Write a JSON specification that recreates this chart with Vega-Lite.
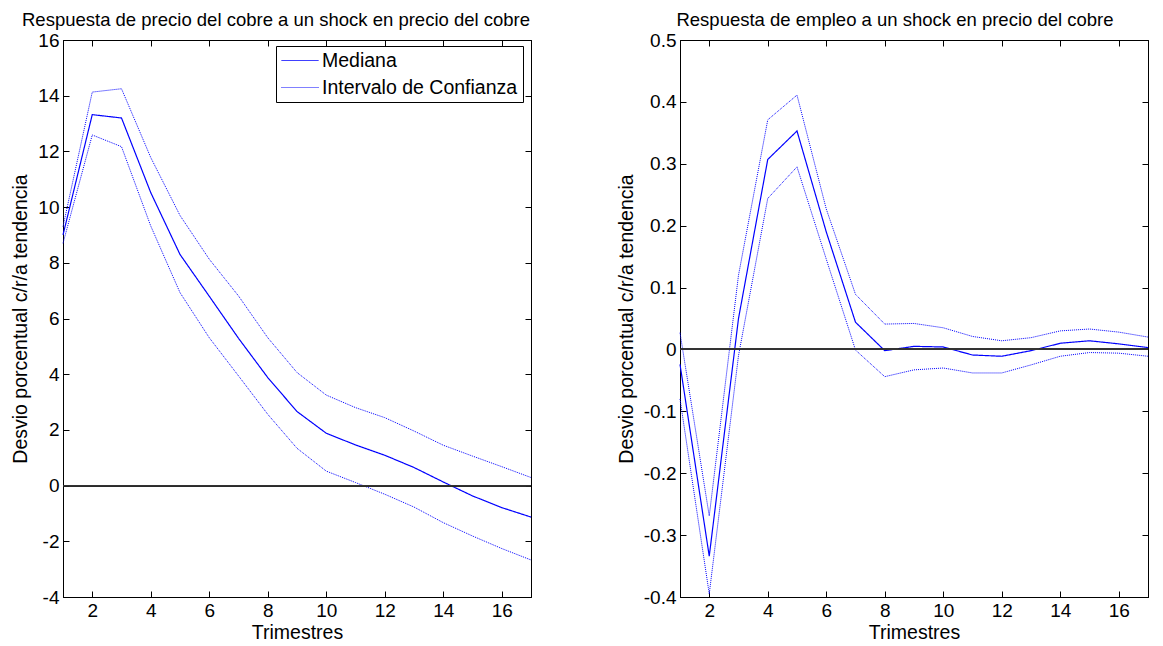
{
  "$schema": "https://vega.github.io/schema/vega-lite/v6.json",
  "padding": {"left": 10, "top": 10, "right": 5, "bottom": 4},
  "spacing": 81,
  "config": {
    "font": "Liberation Sans",
    "locale": {"number": {"decimal": ".", "thousands": ",", "grouping": [3], "currency": ["$", ""], "minus": "-"}},
    "view": {"stroke": "black", "strokeWidth": 1},
    "title": {"fontSize": 18.5, "fontWeight": "normal", "color": "black", "font": "Liberation Sans", "offset": 2},
    "axis": {
      "domainColor": "black", "tickColor": "black", "labelColor": "black", "titleColor": "black",
      "labelFontSize": 19, "titleFontSize": 19.5, "titleFontWeight": "normal", "grid": false,
      "tickSize": -6, "labelPadding": 10, "labelFont": "Liberation Sans", "titleFont": "Liberation Sans"
    },
    "legend": {
      "strokeColor": "black", "fillColor": "white", "padding": 5, "labelFontSize": 19.5, "labelLimit": 0,
      "labelFont": "Liberation Sans", "labelColor": "black", "symbolType": "stroke", "symbolSize": 1369,
      "symbolStrokeWidth": 1, "symbolStrokeColor": "#0000ff", "rowPadding": 7, "labelOffset": 3, "clipHeight": 19
    }
  },
  "datasets": {
    "irf": [
      {"panel": "cobre", "t": 1, "tipo": "Mediana", "banda": "med", "valor": 9.0},
      {"panel": "cobre", "t": 2, "tipo": "Mediana", "banda": "med", "valor": 13.32},
      {"panel": "cobre", "t": 3, "tipo": "Mediana", "banda": "med", "valor": 13.2},
      {"panel": "cobre", "t": 4, "tipo": "Mediana", "banda": "med", "valor": 10.52},
      {"panel": "cobre", "t": 5, "tipo": "Mediana", "banda": "med", "valor": 8.3},
      {"panel": "cobre", "t": 6, "tipo": "Mediana", "banda": "med", "valor": 6.8},
      {"panel": "cobre", "t": 7, "tipo": "Mediana", "banda": "med", "valor": 5.29},
      {"panel": "cobre", "t": 8, "tipo": "Mediana", "banda": "med", "valor": 3.88},
      {"panel": "cobre", "t": 9, "tipo": "Mediana", "banda": "med", "valor": 2.66},
      {"panel": "cobre", "t": 10, "tipo": "Mediana", "banda": "med", "valor": 1.88},
      {"panel": "cobre", "t": 11, "tipo": "Mediana", "banda": "med", "valor": 1.46},
      {"panel": "cobre", "t": 12, "tipo": "Mediana", "banda": "med", "valor": 1.09},
      {"panel": "cobre", "t": 13, "tipo": "Mediana", "banda": "med", "valor": 0.65},
      {"panel": "cobre", "t": 14, "tipo": "Mediana", "banda": "med", "valor": 0.13},
      {"panel": "cobre", "t": 15, "tipo": "Mediana", "banda": "med", "valor": -0.37},
      {"panel": "cobre", "t": 16, "tipo": "Mediana", "banda": "med", "valor": -0.79},
      {"panel": "cobre", "t": 17, "tipo": "Mediana", "banda": "med", "valor": -1.13},
      {"panel": "cobre", "t": 1, "tipo": "Intervalo de Confianza", "banda": "sup", "valor": 9.3},
      {"panel": "cobre", "t": 2, "tipo": "Intervalo de Confianza", "banda": "sup", "valor": 14.13},
      {"panel": "cobre", "t": 3, "tipo": "Intervalo de Confianza", "banda": "sup", "valor": 14.25},
      {"panel": "cobre", "t": 4, "tipo": "Intervalo de Confianza", "banda": "sup", "valor": 11.78},
      {"panel": "cobre", "t": 5, "tipo": "Intervalo de Confianza", "banda": "sup", "valor": 9.7},
      {"panel": "cobre", "t": 6, "tipo": "Intervalo de Confianza", "banda": "sup", "valor": 8.13},
      {"panel": "cobre", "t": 7, "tipo": "Intervalo de Confianza", "banda": "sup", "valor": 6.81},
      {"panel": "cobre", "t": 8, "tipo": "Intervalo de Confianza", "banda": "sup", "valor": 5.31},
      {"panel": "cobre", "t": 9, "tipo": "Intervalo de Confianza", "banda": "sup", "valor": 4.06},
      {"panel": "cobre", "t": 10, "tipo": "Intervalo de Confianza", "banda": "sup", "valor": 3.25},
      {"panel": "cobre", "t": 11, "tipo": "Intervalo de Confianza", "banda": "sup", "valor": 2.8},
      {"panel": "cobre", "t": 12, "tipo": "Intervalo de Confianza", "banda": "sup", "valor": 2.44},
      {"panel": "cobre", "t": 13, "tipo": "Intervalo de Confianza", "banda": "sup", "valor": 1.96},
      {"panel": "cobre", "t": 14, "tipo": "Intervalo de Confianza", "banda": "sup", "valor": 1.45},
      {"panel": "cobre", "t": 15, "tipo": "Intervalo de Confianza", "banda": "sup", "valor": 1.06},
      {"panel": "cobre", "t": 16, "tipo": "Intervalo de Confianza", "banda": "sup", "valor": 0.68},
      {"panel": "cobre", "t": 17, "tipo": "Intervalo de Confianza", "banda": "sup", "valor": 0.29},
      {"panel": "cobre", "t": 1, "tipo": "Intervalo de Confianza", "banda": "inf", "valor": 8.7},
      {"panel": "cobre", "t": 2, "tipo": "Intervalo de Confianza", "banda": "inf", "valor": 12.59},
      {"panel": "cobre", "t": 3, "tipo": "Intervalo de Confianza", "banda": "inf", "valor": 12.17},
      {"panel": "cobre", "t": 4, "tipo": "Intervalo de Confianza", "banda": "inf", "valor": 9.32},
      {"panel": "cobre", "t": 5, "tipo": "Intervalo de Confianza", "banda": "inf", "valor": 6.93},
      {"panel": "cobre", "t": 6, "tipo": "Intervalo de Confianza", "banda": "inf", "valor": 5.31},
      {"panel": "cobre", "t": 7, "tipo": "Intervalo de Confianza", "banda": "inf", "valor": 3.94},
      {"panel": "cobre", "t": 8, "tipo": "Intervalo de Confianza", "banda": "inf", "valor": 2.56},
      {"panel": "cobre", "t": 9, "tipo": "Intervalo de Confianza", "banda": "inf", "valor": 1.34},
      {"panel": "cobre", "t": 10, "tipo": "Intervalo de Confianza", "banda": "inf", "valor": 0.52},
      {"panel": "cobre", "t": 11, "tipo": "Intervalo de Confianza", "banda": "inf", "valor": 0.11},
      {"panel": "cobre", "t": 12, "tipo": "Intervalo de Confianza", "banda": "inf", "valor": -0.31},
      {"panel": "cobre", "t": 13, "tipo": "Intervalo de Confianza", "banda": "inf", "valor": -0.77},
      {"panel": "cobre", "t": 14, "tipo": "Intervalo de Confianza", "banda": "inf", "valor": -1.33},
      {"panel": "cobre", "t": 15, "tipo": "Intervalo de Confianza", "banda": "inf", "valor": -1.81},
      {"panel": "cobre", "t": 16, "tipo": "Intervalo de Confianza", "banda": "inf", "valor": -2.26},
      {"panel": "cobre", "t": 17, "tipo": "Intervalo de Confianza", "banda": "inf", "valor": -2.67},
      {"panel": "empleo", "t": 1, "tipo": "Mediana", "banda": "med", "valor": -0.024},
      {"panel": "empleo", "t": 2, "tipo": "Mediana", "banda": "med", "valor": -0.334},
      {"panel": "empleo", "t": 3, "tipo": "Mediana", "banda": "med", "valor": 0.05},
      {"panel": "empleo", "t": 4, "tipo": "Mediana", "banda": "med", "valor": 0.307},
      {"panel": "empleo", "t": 5, "tipo": "Mediana", "banda": "med", "valor": 0.353},
      {"panel": "empleo", "t": 6, "tipo": "Mediana", "banda": "med", "valor": 0.19},
      {"panel": "empleo", "t": 7, "tipo": "Mediana", "banda": "med", "valor": 0.044},
      {"panel": "empleo", "t": 8, "tipo": "Mediana", "banda": "med", "valor": -0.002},
      {"panel": "empleo", "t": 9, "tipo": "Mediana", "banda": "med", "valor": 0.005},
      {"panel": "empleo", "t": 10, "tipo": "Mediana", "banda": "med", "valor": 0.004},
      {"panel": "empleo", "t": 11, "tipo": "Mediana", "banda": "med", "valor": -0.009},
      {"panel": "empleo", "t": 12, "tipo": "Mediana", "banda": "med", "valor": -0.011},
      {"panel": "empleo", "t": 13, "tipo": "Mediana", "banda": "med", "valor": -0.002},
      {"panel": "empleo", "t": 14, "tipo": "Mediana", "banda": "med", "valor": 0.01},
      {"panel": "empleo", "t": 15, "tipo": "Mediana", "banda": "med", "valor": 0.014},
      {"panel": "empleo", "t": 16, "tipo": "Mediana", "banda": "med", "valor": 0.009},
      {"panel": "empleo", "t": 17, "tipo": "Mediana", "banda": "med", "valor": 0.003},
      {"panel": "empleo", "t": 1, "tipo": "Intervalo de Confianza", "banda": "sup", "valor": 0.027},
      {"panel": "empleo", "t": 2, "tipo": "Intervalo de Confianza", "banda": "sup", "valor": -0.269},
      {"panel": "empleo", "t": 3, "tipo": "Intervalo de Confianza", "banda": "sup", "valor": 0.12},
      {"panel": "empleo", "t": 4, "tipo": "Intervalo de Confianza", "banda": "sup", "valor": 0.371},
      {"panel": "empleo", "t": 5, "tipo": "Intervalo de Confianza", "banda": "sup", "valor": 0.411},
      {"panel": "empleo", "t": 6, "tipo": "Intervalo de Confianza", "banda": "sup", "valor": 0.227},
      {"panel": "empleo", "t": 7, "tipo": "Intervalo de Confianza", "banda": "sup", "valor": 0.089},
      {"panel": "empleo", "t": 8, "tipo": "Intervalo de Confianza", "banda": "sup", "valor": 0.041},
      {"panel": "empleo", "t": 9, "tipo": "Intervalo de Confianza", "banda": "sup", "valor": 0.042},
      {"panel": "empleo", "t": 10, "tipo": "Intervalo de Confianza", "banda": "sup", "valor": 0.035},
      {"panel": "empleo", "t": 11, "tipo": "Intervalo de Confianza", "banda": "sup", "valor": 0.021},
      {"panel": "empleo", "t": 12, "tipo": "Intervalo de Confianza", "banda": "sup", "valor": 0.014},
      {"panel": "empleo", "t": 13, "tipo": "Intervalo de Confianza", "banda": "sup", "valor": 0.019},
      {"panel": "empleo", "t": 14, "tipo": "Intervalo de Confianza", "banda": "sup", "valor": 0.03},
      {"panel": "empleo", "t": 15, "tipo": "Intervalo de Confianza", "banda": "sup", "valor": 0.033},
      {"panel": "empleo", "t": 16, "tipo": "Intervalo de Confianza", "banda": "sup", "valor": 0.028},
      {"panel": "empleo", "t": 17, "tipo": "Intervalo de Confianza", "banda": "sup", "valor": 0.02},
      {"panel": "empleo", "t": 1, "tipo": "Intervalo de Confianza", "banda": "inf", "valor": -0.08},
      {"panel": "empleo", "t": 2, "tipo": "Intervalo de Confianza", "banda": "inf", "valor": -0.395},
      {"panel": "empleo", "t": 3, "tipo": "Intervalo de Confianza", "banda": "inf", "valor": -0.01},
      {"panel": "empleo", "t": 4, "tipo": "Intervalo de Confianza", "banda": "inf", "valor": 0.244},
      {"panel": "empleo", "t": 5, "tipo": "Intervalo de Confianza", "banda": "inf", "valor": 0.295},
      {"panel": "empleo", "t": 6, "tipo": "Intervalo de Confianza", "banda": "inf", "valor": 0.146},
      {"panel": "empleo", "t": 7, "tipo": "Intervalo de Confianza", "banda": "inf", "valor": -0.001},
      {"panel": "empleo", "t": 8, "tipo": "Intervalo de Confianza", "banda": "inf", "valor": -0.044},
      {"panel": "empleo", "t": 9, "tipo": "Intervalo de Confianza", "banda": "inf", "valor": -0.033},
      {"panel": "empleo", "t": 10, "tipo": "Intervalo de Confianza", "banda": "inf", "valor": -0.03},
      {"panel": "empleo", "t": 11, "tipo": "Intervalo de Confianza", "banda": "inf", "valor": -0.038},
      {"panel": "empleo", "t": 12, "tipo": "Intervalo de Confianza", "banda": "inf", "valor": -0.038},
      {"panel": "empleo", "t": 13, "tipo": "Intervalo de Confianza", "banda": "inf", "valor": -0.025},
      {"panel": "empleo", "t": 14, "tipo": "Intervalo de Confianza", "banda": "inf", "valor": -0.011},
      {"panel": "empleo", "t": 15, "tipo": "Intervalo de Confianza", "banda": "inf", "valor": -0.005},
      {"panel": "empleo", "t": 16, "tipo": "Intervalo de Confianza", "banda": "inf", "valor": -0.006},
      {"panel": "empleo", "t": 17, "tipo": "Intervalo de Confianza", "banda": "inf", "valor": -0.011}
    ]
  },
  "hconcat": [
    {
      "width": 468,
      "height": 557,
      "title": {"text": "Respuesta de precio del cobre a un shock en precio del cobre", "dx": -21},
      "data": {"name": "irf"},
      "transform": [{"filter": "datum.panel === 'cobre'"}],
      "layer": [
        {
          "transform": [{"filter": "datum.tipo === 'Mediana'"}],
          "mark": {"type": "line", "strokeWidth": 1.2},
          "encoding": {
            "x": {"field": "t", "type": "quantitative", "scale": {"domain": [1, 17], "nice": false, "zero": false},
                  "axis": {"orient": "bottom", "values": [2, 4, 6, 8, 10, 12, 14, 16], "title": "Trimestres", "titlePadding": 3}},
            "y": {"field": "valor", "type": "quantitative", "scale": {"domain": [-4, 16], "nice": false, "zero": false},
                  "axis": {"orient": "left", "values": [-4, -2, 0, 2, 4, 6, 8, 10, 12, 14, 16], "title": "Desvio porcentual c/r/a tendencia", "titlePadding": 7}},
            "color": {"value": "#0000ff"},
            "strokeDash": {"field": "tipo", "type": "nominal",
                           "scale": {"domain": ["Mediana", "Intervalo de Confianza"], "range": [[1, 0], [1, 1]]},
                           "legend": {"title": null, "orient": "none", "legendX": 213, "legendY": 6, "symbolStrokeColor": "#0000ff"}},
            "detail": {"field": "banda"}
          }
        },
        {
          "transform": [{"filter": "datum.tipo !== 'Mediana'"}],
          "mark": {"type": "line", "strokeWidth": 1},
          "encoding": {
            "x": {"field": "t", "type": "quantitative", "scale": {"domain": [1, 17], "nice": false, "zero": false},
                  "axis": {"orient": "top", "values": [2, 4, 6, 8, 10, 12, 14, 16], "labels": false, "title": null}},
            "y": {"field": "valor", "type": "quantitative", "scale": {"domain": [-4, 16], "nice": false, "zero": false},
                  "axis": {"orient": "right", "values": [-4, -2, 0, 2, 4, 6, 8, 10, 12, 14, 16], "labels": false, "title": null}},
            "color": {"value": "#0000ff"},
            "strokeDash": {"field": "tipo", "type": "nominal",
                           "scale": {"domain": ["Mediana", "Intervalo de Confianza"], "range": [[1, 0], [1, 1]]},
                           "legend": {"title": null, "orient": "none", "legendX": 213, "legendY": 6, "symbolStrokeColor": "#0000ff"}},
            "detail": {"field": "banda"}
          }
        },
        {
          "mark": {"type": "rule", "color": "#333333", "strokeWidth": 1},
          "encoding": {"y": {"datum": 0, "type": "quantitative", "axis": null}}
        }
      ]
    },
    {
      "width": 468,
      "height": 557,
      "title": {"text": "Respuesta de empleo a un shock en precio del cobre", "dx": -19},
      "data": {"name": "irf"},
      "transform": [{"filter": "datum.panel === 'empleo'"}],
      "layer": [
        {
          "transform": [{"filter": "datum.tipo === 'Mediana'"}],
          "mark": {"type": "line", "strokeWidth": 1.2},
          "encoding": {
            "x": {"field": "t", "type": "quantitative", "scale": {"domain": [1, 17], "nice": false, "zero": false},
                  "axis": {"orient": "bottom", "values": [2, 4, 6, 8, 10, 12, 14, 16], "title": "Trimestres", "titlePadding": 3}},
            "y": {"field": "valor", "type": "quantitative", "scale": {"domain": [-0.4, 0.5], "nice": false, "zero": false},
                  "axis": {"orient": "left", "values": [-0.4, -0.3, -0.2, -0.1, 0, 0.1, 0.2, 0.3, 0.4, 0.5], "format": "~g", "title": "Desvio porcentual c/r/a tendencia", "titlePadding": 7}},
            "color": {"value": "#0000ff"},
            "strokeDash": {"field": "tipo", "type": "nominal",
                           "scale": {"domain": ["Mediana", "Intervalo de Confianza"], "range": [[1, 0], [1, 1]]},
                           "legend": null},
            "detail": {"field": "banda"}
          }
        },
        {
          "transform": [{"filter": "datum.tipo !== 'Mediana'"}],
          "mark": {"type": "line", "strokeWidth": 1},
          "encoding": {
            "x": {"field": "t", "type": "quantitative", "scale": {"domain": [1, 17], "nice": false, "zero": false},
                  "axis": {"orient": "top", "values": [2, 4, 6, 8, 10, 12, 14, 16], "labels": false, "title": null}},
            "y": {"field": "valor", "type": "quantitative", "scale": {"domain": [-0.4, 0.5], "nice": false, "zero": false},
                  "axis": {"orient": "right", "values": [-0.4, -0.3, -0.2, -0.1, 0, 0.1, 0.2, 0.3, 0.4, 0.5], "labels": false, "title": null}},
            "color": {"value": "#0000ff"},
            "strokeDash": {"field": "tipo", "type": "nominal",
                           "scale": {"domain": ["Mediana", "Intervalo de Confianza"], "range": [[1, 0], [1, 1]]},
                           "legend": null},
            "detail": {"field": "banda"}
          }
        },
        {
          "mark": {"type": "rule", "color": "#333333", "strokeWidth": 1},
          "encoding": {"y": {"datum": 0, "type": "quantitative", "axis": null}}
        }
      ]
    }
  ]
}
